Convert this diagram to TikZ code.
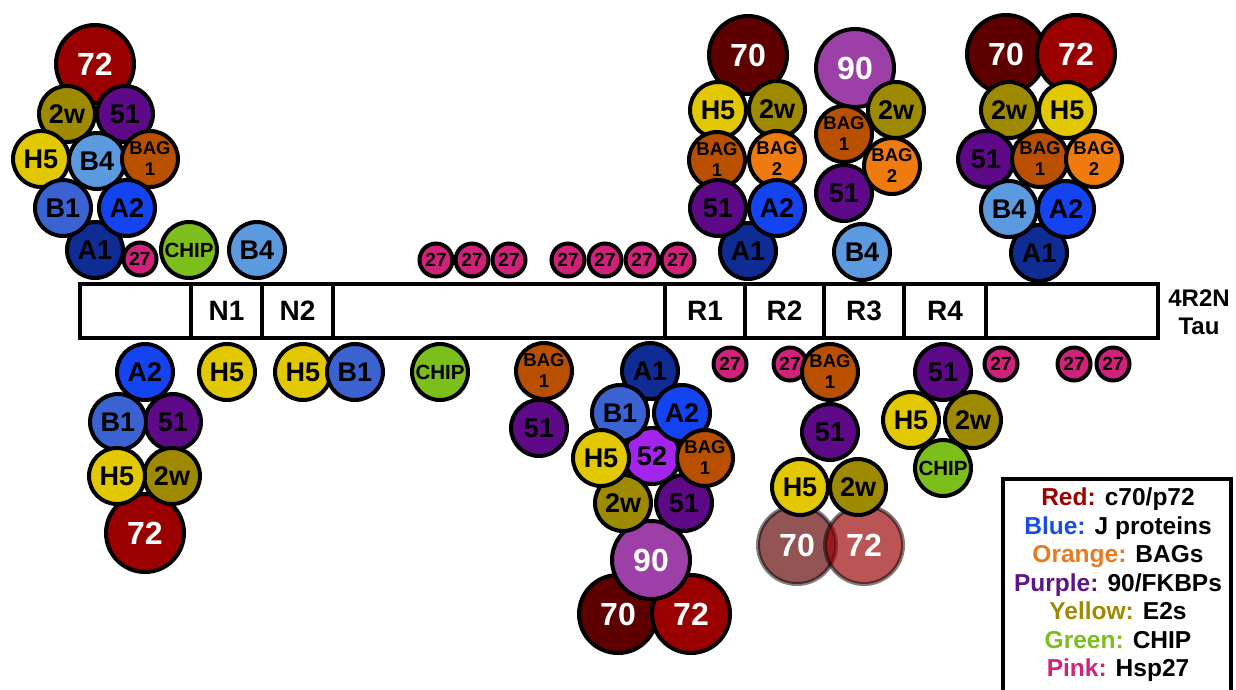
\documentclass[tikz,border=0pt]{standalone}
\usepackage{fontspec}
\setmainfont{Liberation Sans}
% protein colours
\definecolor{c70}{RGB}{94,0,0}
\definecolor{c72}{RGB}{154,0,0}
\definecolor{c90}{RGB}{156,64,168}
\definecolor{c2w}{RGB}{158,138,0}
\definecolor{cH5}{RGB}{226,200,0}
\definecolor{c51}{RGB}{94,10,136}
\definecolor{c52}{RGB}{164,36,238}
\definecolor{cBAGa}{RGB}{184,80,0}
\definecolor{cBAGb}{RGB}{238,122,16}
\definecolor{cB4}{RGB}{92,154,224}
\definecolor{cB1}{RGB}{58,98,208}
\definecolor{cA2}{RGB}{20,68,240}
\definecolor{cA1}{RGB}{14,44,148}
\definecolor{cCHIP}{RGB}{124,190,28}
\definecolor{c27}{RGB}{208,34,122}
% legend colours
\definecolor{lgRed}{RGB}{154,0,0}
\definecolor{lgBlue}{RGB}{26,76,232}
\definecolor{lgOrange}{RGB}{232,122,34}
\definecolor{lgPurple}{RGB}{94,20,136}
\definecolor{lgYellow}{RGB}{158,138,0}
\definecolor{lgGreen}{RGB}{124,190,28}
\definecolor{lgPink}{RGB}{208,34,122}
\begin{document}
\begin{tikzpicture}[x=1pt,y=-1pt,
  pc/.style={circle, draw=black, line width=4pt, inner sep=0pt, minimum size=56pt,
    font=\bfseries\fontsize{27}{27}\selectfont, text=black},
  pcs/.style={pc, minimum size=33pt, fill=c27, font=\bfseries\fontsize{19}{19}\selectfont},
  pcb/.style={pc, minimum size=78pt, text=white, font=\bfseries\fontsize{32}{32}\selectfont},
  pcbag/.style={pc, align=center, font=\bfseries\fontsize{18.5}{21}\selectfont},
  pcchip/.style={pc, fill=cCHIP, font=\bfseries\fontsize{20.5}{20.5}\selectfont},
  pcghost/.style={pcb, fill opacity=0.67, draw opacity=0.5, text opacity=1},
  seg/.style={draw=black, line width=4pt, inner sep=0pt, minimum height=54pt,
    font=\bfseries\fontsize{28}{28}\selectfont},
  H5/.style={pc, fill=cH5}, W2/.style={pc, fill=c2w}, F51/.style={pc, fill=c51},
  F52/.style={pc, fill=c52}, BA/.style={pcbag, fill=cBAGa}, BB/.style={pcbag, fill=cBAGb},
  JB4/.style={pc, fill=cB4}, JB1/.style={pc, fill=cB1}, JA2/.style={pc, fill=cA2},
  JA1/.style={pc, fill=cA1}]
\useasboundingbox (0,0) rectangle (1236,689);
\clip (0,0) rectangle (1236,689);

% ---- 4R2N tau domains ----
\node[seg, minimum width=111pt] (s0) at (135.5,311) {};
\node[seg, minimum width=71pt]  (sN1) at (226.5,311) {N1};
\node[seg, minimum width=71pt]  (sN2) at (297.5,311) {N2};
\node[seg, minimum width=332pt] (s3) at (499,311) {};
\node[seg, minimum width=80pt]  (sR1) at (705,311) {R1};
\node[seg, minimum width=79pt]  (sR2) at (784.5,311) {R2};
\node[seg, minimum width=80pt]  (sR3) at (864,311) {R3};
\node[seg, minimum width=82pt]  (sR4) at (945,311) {R4};
\node[seg, minimum width=172pt] (s8) at (1072,311) {};
\node[align=center, font=\bfseries\fontsize{24}{28}\selectfont] (tau) at (1199,312) {4R2N\\Tau};

% ---- above N-terminus ----
\node[pcb, fill=c72] (a72) at (95,64) {72};
\node[W2] (a2w) at (67,114) {2w};
\node[F51] (a51) at (125,114) {51};
\node[JB4] (aB4) at (97,161) {B4};
\node[H5] (aH5) at (41,159) {H5};
\node[BA] (aBAG) at (150,159) {BAG\\1};
\node[JA1] (aA1) at (95,250) {A1};
\node[JB1] (aB1) at (63,208) {B1};
\node[JA2] (aA2) at (127,208) {A2};
\node[pcs] (a27) at (140,259) {27};
\node[pcchip] (aCHIP) at (189,250) {CHIP};
\node[JB4] (aB4b) at (257,250) {B4};

% ---- below N-terminus ----
\node[JA2] (bA2) at (145,372) {A2};
\node[F51] (b51) at (173,422) {51};
\node[JB1] (bB1) at (118,422) {B1};
\node[pcb, fill=c72] (b72) at (145,533) {72};
\node[W2] (b2w) at (172,476) {2w};
\node[H5] (bH5) at (117,476) {H5};
\node[H5] (cH5n1) at (227,372) {H5};
\node[H5] (cH5n2) at (303,372) {H5};
\node[JB1] (cB1) at (355,372) {B1};
\node[pcchip] (cCHIPm) at (440,372) {CHIP};
\node[F51] (c51) at (539,428) {51};
\node[BA] (cBAG) at (544,371) {BAG\\1};

% ---- Hsp27 row above the proline-rich region ----
\node[pcs] (h1) at (436,260) {27};
\node[pcs] (h2) at (472,260) {27};
\node[pcs] (h3) at (509,260) {27};
\node[pcs] (h4) at (568,260) {27};
\node[pcs] (h5) at (605,260) {27};
\node[pcs] (h6) at (642,260) {27};
\node[pcs] (h7) at (678,260) {27};

% ---- large complex below the proline-rich region ----
\node[JA1] (mA1) at (650,371) {A1};
\node[pcb, fill=c70] (m70) at (618,614) {70};
\node[pcb, fill=c72] (m72) at (691,614) {72};
\node[pcb, fill=c90] (m90) at (651,560) {90};
\node[F52] (m52) at (652,456) {52};
\node[W2] (m2w) at (623,503) {2w};
\node[F51] (m51) at (684,503) {51};
\node[JB1] (mB1) at (620,413) {B1};
\node[JA2] (mA2) at (682,413) {A2};
\node[H5] (mH5) at (601,458) {H5};
\node[BA] (mBAG) at (705,458) {BAG\\1};
\node[pcs] (m27) at (730,364) {27};

% ---- above R1 ----
\node[JA1] (pA1) at (748,251) {A1};
\node[pcb, fill=c70] (p70) at (748,55) {70};
\node[H5] (pH5) at (718,110) {H5};
\node[W2] (p2w) at (777,109) {2w};
\node[BA] (pBAGa) at (717,160) {BAG\\1};
\node[BB] (pBAGb) at (777,159) {BAG\\2};
\node[F51] (p51) at (718,208) {51};
\node[JA2] (pA2) at (777,208) {A2};

% ---- above R3 ----
\node[pcb, fill=c90] (q90) at (855,68) {90};
\node[W2] (q2w) at (896,110) {2w};
\node[BA] (qBAGa) at (844,134) {BAG\\1};
\node[F51] (q51) at (844,193) {51};
\node[BB] (qBAGb) at (892,166) {BAG\\2};
\node[JB4] (qB4) at (862,252) {B4};

% ---- above C-terminus ----
\node[pcb, fill=c70] (t70) at (1006,54) {70};
\node[pcb, fill=c72] (t72) at (1076,54) {72};
\node[W2] (t2w) at (1009,110) {2w};
\node[H5] (tH5) at (1067,110) {H5};
\node[F51] (t51) at (986,159) {51};
\node[BA] (tBAGa) at (1040,159) {BAG\\1};
\node[BB] (tBAGb) at (1094,159) {BAG\\2};
\node[JA1] (tA1) at (1039,253) {A1};
\node[JB4] (tB4) at (1009,209) {B4};
\node[JA2] (tA2) at (1066,209) {A2};

% ---- below R2 ----
\node[pcs] (r27) at (790,364) {27};
\node[F51] (r51) at (830,432) {51};
\node[BA] (rBAG) at (830,372) {BAG\\1};
\node[pcghost, fill=c70] (r70) at (797,545) {70};
\node[pcghost, fill=c72] (r72) at (864,545) {72};
\node[W2] (r2w) at (858,487) {2w};
\node[H5] (rH5) at (800,487) {H5};

% ---- below R4 and C-terminus ----
\node[F51] (u51) at (943,372) {51};
\node[W2] (u2w) at (973,420) {2w};
\node[H5] (uH5) at (911,420) {H5};
\node[pcchip] (uCHIP) at (943,468) {CHIP};
\node[pcs] (u27a) at (1001,364) {27};
\node[pcs] (u27b) at (1074,364) {27};
\node[pcs] (u27c) at (1113,364) {27};

% ---- colour key ----
\draw[line width=4pt] (1003,700) -- (1003,479) -- (1231,479) -- (1231,700);
\node[align=center, font=\bfseries\fontsize{24.5}{28.5}\selectfont] (legend) at (1118,585)
  {\textcolor{lgRed}{Red:} c70/p72\\
   \textcolor{lgBlue}{Blue:} J proteins\\
   \textcolor{lgOrange}{Orange:} BAGs\\
   \textcolor{lgPurple}{Purple:} 90/FKBPs\\
   \textcolor{lgYellow}{Yellow:} E2s\\
   \textcolor{lgGreen}{Green:} CHIP\\
   \textcolor{lgPink}{Pink:} Hsp27};
\end{tikzpicture}
\end{document}
